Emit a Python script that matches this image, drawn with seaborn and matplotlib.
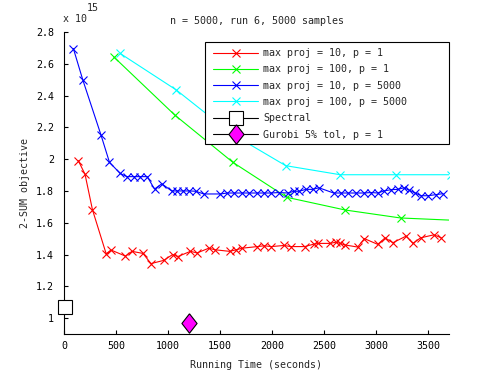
import numpy as np
import pandas as pd
from matplotlib import pyplot as plt
from matplotlib.patches import Rectangle
import seaborn as sns

# values (y in units of 1e15)
red_x = [138, 202, 273, 405, 453, 591, 653, 759, 836, 958, 1044, 1093, 1215, 1279, 1392, 1450,
         1591, 1656, 1714, 1858, 1923, 1993, 2115, 2179, 2314, 2398, 2443, 2559, 2613, 2655,
         2703, 2822, 2887, 3015, 3086, 3160, 3288, 3353, 3427, 3555, 3626]
red_y = [1.99, 1.905, 1.683, 1.405, 1.428, 1.39, 1.42, 1.407, 1.343, 1.363, 1.40, 1.387, 1.42,
         1.41, 1.44, 1.43, 1.42, 1.43, 1.44, 1.45, 1.455, 1.45, 1.457, 1.45, 1.45, 1.465, 1.47,
         1.47, 1.478, 1.47, 1.46, 1.447, 1.50, 1.464, 1.505, 1.474, 1.516, 1.47, 1.505, 1.524,
         1.505]

green_x = [479, 1064, 1623, 2141, 2703, 3234, 3760]
green_y = [2.643, 2.278, 1.98, 1.76, 1.68, 1.63, 1.615]

blue_x = [90, 180, 354, 437, 540, 605, 670, 735, 800, 870, 940, 1035, 1090, 1145, 1205, 1265,
          1344, 1504, 1569, 1633, 1714, 1777, 1858, 1923, 1987, 2067, 2148, 2212, 2260, 2324,
          2389, 2450, 2591, 2662, 2732, 2806, 2880, 2951, 3015, 3073, 3144, 3208, 3266, 3320,
          3375, 3433, 3497, 3578, 3642]
blue_y = [2.696, 2.50, 2.155, 1.98, 1.91, 1.89, 1.89, 1.89, 1.89, 1.812, 1.845, 1.80, 1.80, 1.80,
          1.80, 1.798, 1.781, 1.781, 1.787, 1.787, 1.787, 1.787, 1.787, 1.787, 1.787, 1.79, 1.787,
          1.798, 1.798, 1.81, 1.81, 1.82, 1.787, 1.787, 1.787, 1.787, 1.787, 1.79, 1.787, 1.80,
          1.808, 1.81, 1.82, 1.804, 1.787, 1.77, 1.77, 1.777, 1.783]

cyan_x = [540, 1080, 1610, 2131, 2655, 3192, 3720]
cyan_y = [2.665, 2.435, 2.16, 1.959, 1.902, 1.902, 1.902]

spectral_x = [5]
spectral_y = [1.067]
gurobi_x = [1200]
gurobi_y = [0.967]

labels = ['max proj = 10, p = 1', 'max proj = 100, p = 1', 'max proj = 10, p = 5000',
          'max proj = 100, p = 5000', 'Spectral', 'Gurobi 5% tol, p = 1']

sns.set_style('ticks')
plt.rcParams['font.family'] = ['DejaVu Sans Mono', 'DejaVu Sans']
plt.rcParams['font.size'] = 7.2

fig = plt.figure(figsize=(4.95, 3.75), dpi=100)
ax = fig.add_axes([64 / 495, 1 - 334 / 375, 385 / 495, 302 / 375])

series = [(red_x, red_y, '#ff0000'), (green_x, green_y, '#00ff00'),
          (blue_x, blue_y, '#0000ff'), (cyan_x, cyan_y, '#00ffff')]
for (xs, ys, c), lab in zip(series, labels[:4]):
    d = pd.DataFrame({'t': xs, 'obj': ys})
    sns.lineplot(data=d, x='t', y='obj', ax=ax, color=c, lw=0.8, marker='x', markersize=6,
                 markeredgewidth=0.8, markeredgecolor=c, estimator=None, label=lab, legend=False)

d = pd.DataFrame({'t': spectral_x, 'obj': spectral_y})
sns.lineplot(data=d, x='t', y='obj', ax=ax, color='black', lw=0.8, marker='s', markersize=10,
             markerfacecolor='white', markeredgecolor='black', markeredgewidth=0.8,
             estimator=None, label=labels[4], legend=False, clip_on=False, zorder=3)
diamond = [(0, 1), (0.78, 0), (0, -1), (-0.78, 0), (0, 1)]
d = pd.DataFrame({'t': gurobi_x, 'obj': gurobi_y})
sns.lineplot(data=d, x='t', y='obj', ax=ax, color='black', lw=0.8, marker=diamond, markersize=14,
             markerfacecolor='#ff00ff', markeredgecolor='black', markeredgewidth=0.8,
             estimator=None, label=labels[5], legend=False, clip_on=False, zorder=3)

ax.set_xlim(0, 3700)
ax.set_ylim(0.9, 2.8)
ax.set_xticks(np.arange(0, 3501, 500))
ax.set_yticks(np.arange(1.0, 2.81, 0.2))
ax.yaxis.set_major_formatter(plt.FuncFormatter(lambda v, p: '%g' % round(v, 1)))
for s in ['top', 'right']:
    ax.spines[s].set_visible(False)
for s in ['left', 'bottom']:
    ax.spines[s].set_linewidth(0.8)
    ax.spines[s].set_color('black')
ax.tick_params(axis='x', direction='in', length=3, width=0.8, pad=5, colors='black')
ax.tick_params(axis='y', direction='in', length=3, width=0.8, pad=7, colors='black')

ax.set_xlabel('Running Time (seconds)')
ax.set_ylabel('2-SUM objective')
ax.xaxis.set_label_coords(0.5, -0.086)
ax.yaxis.set_label_coords(-0.088, 0.5)
ax.set_title('n = 5000, run 6, 5000 samples', fontsize=7.2, pad=6)

fig.text(63 / 495, 1 - 19 / 375, 'x 10', ha='left', va='center')
fig.text(87 / 495, 1 - 8 / 375, '15', ha='left', va='center')

# gnuplot-like key: plain box with extra room on the right
box = Rectangle(((205 - 64) / 385, (334 - 144) / 302), (449 - 205) / 385, 102 / 302,
                transform=ax.transAxes, facecolor='white', edgecolor='black', lw=0.8, zorder=4.5,
                clip_on=False)
ax.add_patch(box)
leg = ax.legend(loc='upper left', bbox_to_anchor=((213 - 64) / 385, (334 - 48) / 302),
                numpoints=1, handlelength=4.5, handletextpad=0.5, labelspacing=0.63,
                borderpad=0, borderaxespad=0, frameon=False)
leg.set_zorder(5)

fig.savefig('out.png', dpi=100)
